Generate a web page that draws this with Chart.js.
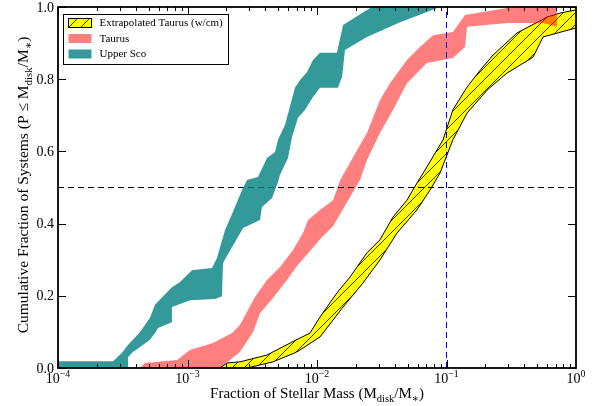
<!DOCTYPE html>
<html>
<head>
<meta charset="utf-8">
<script src="https://cdn.jsdelivr.net/npm/chart.js@4.4.0/dist/chart.umd.min.js"></script>
<style>
  html, body { margin: 0; padding: 0; background: #fff; }
  canvas { display: block; }
</style>
</head>
<body>
<canvas id="graph" width="604" height="406"></canvas>
<script>
// band edges (x = Mdisk/M*, y = cumulative fraction)
// "upper" = upper-left edge going up, "lower" = lower-right edge going back down
const scoUpperX = [5e-5, 5e-5, 2.66e-4, 3.12e-4, 3.47e-4, 3.79e-4, 4.30e-4, 5.13e-4, 5.61e-4, 7.58e-4, 8.75e-4, 1.084e-3, 1.545e-3, 1.69e-3, 1.95e-3, 2.24e-3, 2.64e-3, 2.88e-3, 3.50e-3, 4.11e-3, 4.74e-3, 5.00e-3, 5.66e-3, 6.76e-3, 7.40e-3, 8.38e-3, 9.31e-3, 1.054e-2, 1.425e-2, 1.59e-2, 2.43e-2, 2.66e-2];
const scoUpperY = [0, 0.019, 0.019, 0.042, 0.064, 0.078, 0.100, 0.139, 0.175, 0.224, 0.238, 0.271, 0.277, 0.305, 0.382, 0.432, 0.493, 0.521, 0.529, 0.582, 0.598, 0.632, 0.673, 0.776, 0.798, 0.820, 0.853, 0.873, 0.873, 0.950, 0.992, 1.0];
const scoLowerX = [8.91e-2, 4.38e-2, 2.43e-2, 1.645e-2, 1.56e-2, 1.45e-2, 1.054e-2, 9.31e-3, 8.07e-3, 7.13e-3, 6.41e-3, 5.97e-3, 5.18e-3, 5.00e-3, 4.50e-3, 3.76e-3, 3.63e-3, 2.69e-3, 2.21e-3, 1.88e-3, 1.845e-3, 1.63e-3, 1.045e-3, 8.75e-4, 7.58e-4, 7.58e-4, 5.92e-4, 5.61e-4, 5.13e-4, 4.30e-4, 3.79e-4, 3.47e-4, 3.47e-4];
const scoLowerY = [1.0, 0.958, 0.917, 0.881, 0.806, 0.776, 0.776, 0.751, 0.715, 0.693, 0.640, 0.582, 0.535, 0.515, 0.471, 0.446, 0.410, 0.388, 0.335, 0.291, 0.199, 0.191, 0.188, 0.177, 0.169, 0.127, 0.111, 0.097, 0.078, 0.058, 0.044, 0.030, 0];

const tauUpperX = [4.30e-4, 4.70e-4, 8.30e-4, 1.045e-3, 1.574e-3, 2.21e-3, 2.54e-3, 3.32e-3, 4.11e-3, 5.18e-3, 6.53e-3, 7.80e-3, 8.53e-3, 1.054e-2, 1.33e-2, 1.51e-2, 1.90e-2, 2.43e-2, 3.06e-2, 3.66e-2, 4.95e-2, 6.23e-2, 7.87e-2, 0.112, 0.139, 0.293, 0.370];
const tauUpperY = [0, 0.014, 0.022, 0.050, 0.069, 0.097, 0.119, 0.197, 0.244, 0.280, 0.327, 0.374, 0.410, 0.438, 0.465, 0.521, 0.584, 0.651, 0.742, 0.789, 0.853, 0.889, 0.922, 0.931, 0.978, 0.997, 1.0];
const tauLowerX = [0.713, 0.713, 0.556, 0.293, 0.144, 0.139, 0.112, 7.06e-2, 4.95e-2, 3.86e-2, 3.06e-2, 2.43e-2, 2.15e-2, 1.80e-2, 1.33e-2, 1.094e-2, 8.83e-3, 7.02e-3, 5.86e-3, 4.57e-3, 3.63e-3, 3.21e-3, 2.54e-3, 1.78e-3];
const tauLowerY = [1.0, 0.945, 0.956, 0.956, 0.945, 0.889, 0.859, 0.845, 0.789, 0.715, 0.651, 0.576, 0.521, 0.474, 0.393, 0.363, 0.324, 0.283, 0.244, 0.194, 0.152, 0.100, 0.044, 0];

const extUpperX = [1.78e-3, 2.02e-3, 2.54e-3, 4.11e-3, 6.19e-3, 8.83e-3, 1.054e-2, 1.425e-2, 1.80e-2, 2.43e-2, 3.06e-2, 3.86e-2, 4.95e-2, 5.91e-2, 7.06e-2, 9.40e-2, 0.112, 0.144, 0.182, 0.229, 0.350, 0.597, 0.751, 1.0, 1.28];
const extUpperY = [0, 0.014, 0.017, 0.036, 0.069, 0.097, 0.141, 0.208, 0.252, 0.319, 0.355, 0.418, 0.465, 0.512, 0.557, 0.632, 0.715, 0.778, 0.825, 0.867, 0.928, 0.972, 0.983, 0.992, 1.0];
const extLowerX = [1.28, 1.0, 0.556, 0.466, 0.370, 0.293, 0.206, 0.144, 0.112, 8.91e-2, 7.46e-2, 5.91e-2, 4.15e-2, 3.06e-2, 2.26e-2, 1.59e-2, 1.054e-2, 7.40e-3, 6.76e-3, 4.57e-3, 2.88e-3];
const extLowerY = [0.950, 0.942, 0.917, 0.861, 0.839, 0.817, 0.770, 0.706, 0.632, 0.540, 0.493, 0.438, 0.374, 0.299, 0.235, 0.169, 0.086, 0.050, 0.042, 0.017, 0];

const halfLevel = 0.5;
const mmsnRatio = 0.1;

const xDecades = [1e-4, 1e-3, 1e-2, 1e-1, 1];
const xDecadeExp = ['\u22124', '\u22123', '\u22122', '\u22121', '0'];
const yTicks = [0, 0.2, 0.4, 0.6, 0.8, 1.0];
const legendLabels = ['Extrapolated Taurus (w/cm)', 'Taurus', 'Upper Sco'];

const SERIF = '"Liberation Serif", "DejaVu Serif", serif';
const tealFill = 'rgba(0, 128, 128, 0.8)';
const salmonFill = 'rgba(255, 0, 0, 0.5)';

function band(upX, upY, loX, loY) {
  const pts = upX.map((x, i) => ({ x: x, y: upY[i] }));
  loX.forEach((x, i) => pts.push({ x: x, y: loY[i] }));
  return pts;
}

const ctx = document.getElementById('graph').getContext('2d');

function hatchPattern() {
  const c = document.createElement('canvas');
  c.width = 12; c.height = 12;
  const g = c.getContext('2d');
  g.fillStyle = '#ffff00';
  g.fillRect(0, 0, 12, 12);
  g.strokeStyle = '#000';
  g.lineWidth = 0.8;
  g.beginPath();
  g.moveTo(-1, 13); g.lineTo(13, -1);
  g.moveTo(-1, 1); g.lineTo(1, -1);
  g.moveTo(11, 13); g.lineTo(13, 11);
  g.stroke();
  return ctx.createPattern(c, 'repeat');
}
const hatch = hatchPattern();

// text with sub/superscripts, drawn as runs
function drawRuns(g, list, x, y, size, align) {
  const small = size * 0.7;
  let w = 0;
  const items = list.map(([text, kind]) => {
    const fs = kind ? small : size;
    g.font = fs + 'px ' + SERIF;
    const tw = g.measureText(text).width;
    w += tw;
    return { text, kind, fs, tw };
  });
  let cx = align === 'center' ? x - w / 2 : align === 'right' ? x - w : x;
  g.textAlign = 'left';
  g.textBaseline = 'alphabetic';
  for (const it of items) {
    g.font = it.fs + 'px ' + SERIF;
    const dy = it.kind === 'sup' ? -size * 0.4 : it.kind === 'sub' ? size * 0.25 : 0;
    g.fillText(it.text, cx, y + dy);
    cx += it.tw;
  }
}

const axesPlugin = {
  id: 'axesPlugin',
  afterDraw(chart) {
    const g = chart.ctx;
    const { left, right, top, bottom } = chart.chartArea;
    const xs = chart.scales.x, ys = chart.scales.y;
    g.save();
    g.strokeStyle = '#000';
    g.fillStyle = '#000';

    // ticks, pointing inwards on all four sides
    g.lineWidth = 1;
    g.beginPath();
    for (let d = -4; d < 0; d++) {
      for (let m = 1; m <= 9; m++) {
        const v = m * Math.pow(10, d);
        const px = Math.round(xs.getPixelForValue(v)) + 0.5;
        const len = m === 1 ? 8 : 4;
        g.moveTo(px, bottom); g.lineTo(px, bottom - len);
        g.moveTo(px, top); g.lineTo(px, top + len);
      }
    }
    yTicks.forEach(v => {
      const py = Math.round(ys.getPixelForValue(v)) + 0.5;
      g.moveTo(left, py); g.lineTo(left + 8, py);
      g.moveTo(right, py); g.lineTo(right - 8, py);
    });
    g.stroke();

    // frame
    g.lineWidth = 1.8;
    g.strokeRect(left, top, right - left, bottom - top);

    // tick labels
    xDecades.forEach((v, i) => {
      drawRuns(g, [['10'], [xDecadeExp[i], 'sup']], xs.getPixelForValue(v), bottom + 15, 14, 'center');
    });
    g.font = '14px ' + SERIF;
    g.textAlign = 'right';
    g.textBaseline = 'middle';
    yTicks.forEach(v => {
      g.fillText(v.toFixed(1), left - 4, ys.getPixelForValue(v) + 1);
    });

    // axis titles
    drawRuns(g, [['Fraction of Stellar Mass (M'], ['disk', 'sub'], ['/M'], ['\u2217', 'sub'], [')']],
      (left + right) / 2, bottom + 30, 15, 'center');
    g.save();
    g.translate(28, 185);
    g.rotate(-Math.PI / 2);
    drawRuns(g, [['Cumulative Fraction of Systems (P \u2264 M'], ['disk', 'sub'], ['/M'], ['\u2217', 'sub'], [')']],
      0, 0, 15.5, 'center');
    g.restore();

    // legend
    const lx = left + 5.5, ly = top + 7.5, lw = 165, lh = 50;
    g.fillStyle = '#fff';
    g.fillRect(lx, ly, lw, lh);
    g.lineWidth = 1;
    g.strokeStyle = '#000';
    g.strokeRect(lx, ly, lw, lh);
    const fills = [hatch, salmonFill, tealFill];
    legendLabels.forEach((label, i) => {
      const ry = ly + 4 + i * 15.5;
      g.fillStyle = '#fff';
      g.fillRect(lx + 5, ry, 23, 9);
      g.fillStyle = fills[i];
      g.fillRect(lx + 5, ry, 23, 9);
      if (i === 0) g.strokeRect(lx + 5, ry, 23, 9);
      g.fillStyle = '#000';
      g.font = '11px ' + SERIF;
      g.textAlign = 'left';
      g.textBaseline = 'middle';
      g.fillText(label, lx + 36, ry + 5);
    });
    g.restore();
  }
};

new Chart(ctx, {
  type: 'line',
  data: {
    datasets: [
      {
        label: legendLabels[2],
        data: band(scoUpperX, scoUpperY, scoLowerX, scoLowerY),
        backgroundColor: tealFill,
        borderColor: 'rgba(0,0,0,0)',
        borderWidth: 0,
        fill: 'shape',
        order: 1,
      },
      {
        label: 'vline',
        data: [{ x: mmsnRatio, y: 0 }, { x: mmsnRatio, y: 1 }],
        borderColor: '#0000ff',
        borderWidth: 1,
        borderDash: [6, 4],
        fill: false,
        order: 0,
      },
      {
        label: 'hline',
        data: [{ x: 1e-4, y: halfLevel }, { x: 1, y: halfLevel }],
        borderColor: '#000',
        borderWidth: 1,
        borderDash: [6, 4],
        fill: false,
        order: 2,
      },
      {
        label: legendLabels[1],
        data: band(tauUpperX, tauUpperY, tauLowerX, tauLowerY),
        backgroundColor: salmonFill,
        borderColor: 'rgba(0,0,0,0)',
        borderWidth: 0,
        fill: 'shape',
        order: 3,
      },
      {
        label: legendLabels[0],
        data: band(extUpperX, extUpperY, extLowerX, extLowerY),
        backgroundColor: hatch,
        borderColor: '#000',
        borderWidth: 1,
        fill: 'shape',
        order: 4,
      },
    ],
  },
  options: {
    responsive: false,
    animation: false,
    devicePixelRatio: 1,
    layout: { padding: { left: 58, right: 28, top: 7, bottom: 38 } },
    elements: { point: { radius: 0, hoverRadius: 0 }, line: { tension: 0 } },
    scales: {
      x: { type: 'logarithmic', min: 1e-4, max: 1, display: false },
      y: { type: 'linear', min: 0, max: 1, display: false },
    },
    plugins: { legend: { display: false }, tooltip: { enabled: false } },
  },
  plugins: [axesPlugin],
});
</script>
</body>
</html>
